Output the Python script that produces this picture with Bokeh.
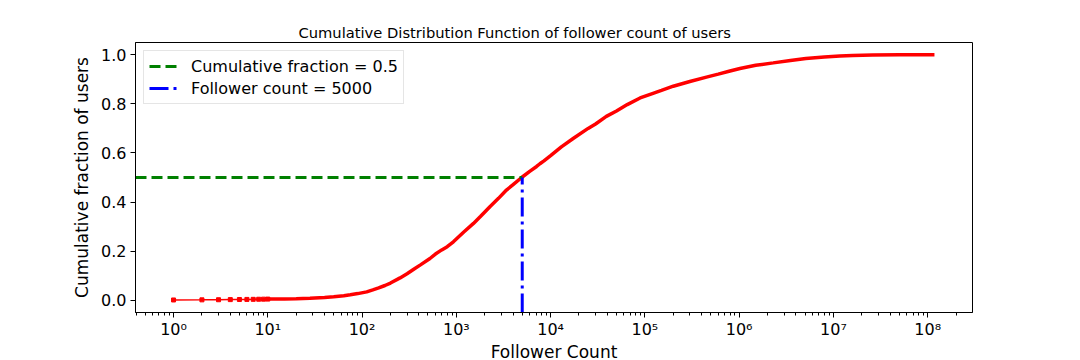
import math
from bokeh.plotting import figure
from bokeh.models import (Range1d, FixedTicker, PrintfTickFormatter, Legend,
                          LegendItem, Title)
from bokeh.embed import file_html
from bokeh.resources import INLINE

# ---- data ----
followers = [1, 2, 3, 4, 5, 6, 7, 8, 9, 10, 12, 15, 20, 28, 40, 50, 64, 75,
             90, 112, 130, 150, 175, 200, 253, 300, 350, 420, 525, 600, 700,
             800, 930, 1200, 1520, 1800, 2270, 2800, 3400, 4000, 4930, 6000,
             7100, 7700, 8500, 10000, 13000, 17500, 25000, 30000, 39000,
             50000, 65000, 89000, 120000, 150000, 200000, 300000, 450000,
             600000, 800000, 1020000, 1500000, 2300000, 3500000, 5100000,
             8000000, 11700000, 16000000, 26000000, 50000000, 118000000]
cum_fraction = [0.001, 0.0015, 0.002, 0.0025, 0.003, 0.0033, 0.0036, 0.004,
                0.0043, 0.0046, 0.005, 0.0055, 0.0065, 0.008, 0.011, 0.014,
                0.018, 0.022, 0.027, 0.034, 0.042, 0.05, 0.06, 0.07, 0.091,
                0.108, 0.125, 0.145, 0.17, 0.188, 0.205, 0.218, 0.238, 0.278,
                0.313, 0.341, 0.381, 0.415, 0.449, 0.471, 0.5, 0.525, 0.545,
                0.556, 0.568, 0.589, 0.625, 0.66, 0.70, 0.718, 0.749, 0.771,
                0.797, 0.824, 0.842, 0.855, 0.872, 0.891, 0.909, 0.921, 0.934,
                0.944, 0.957, 0.967, 0.977, 0.985, 0.991, 0.995, 0.997, 0.999,
                1.0, 1.0]
threshold_fraction = 0.5
threshold_count = 5000

x_ticks = [1, 10, 100, 1000, 10000, 100000, 1000000, 10000000, 100000000]
x_tick_labels = ["10⁰", "10¹", "10²", "10³", "10⁴", "10⁵", "10⁶", "10⁷", "10⁸"]
y_ticks = [0.0, 0.2, 0.4, 0.6, 0.8, 1.0]

title_text = "Cumulative Distribution Function of follower count of users"
x_label = "Follower Count"
y_label = "Cumulative fraction of users"
legend_labels = ["Cumulative fraction = 0.5", "Follower count = 5000"]

# ---- ranges (matplotlib-like 5% margins) ----
lo_exp, hi_exp = math.log10(followers[0]), math.log10(followers[-1])
pad = 0.05 * (hi_exp - lo_exp)
x_lo, x_hi = 10 ** (lo_exp - pad), 10 ** (hi_exp + pad)
y_lo, y_hi = -0.05, 1.05

FONT = "DejaVu Sans"

p = figure(x_axis_type="log", output_backend="svg", toolbar_location=None,
           frame_width=837, frame_height=270,
           x_range=Range1d(x_lo, x_hi), y_range=Range1d(y_lo, y_hi),
           min_border_left=135, min_border_right=100, min_border_top=42,
           min_border_bottom=40)
p.title = Title(text=title_text, align="left", offset=163, standoff=3,
                text_font=FONT, text_font_size="14.7px", text_font_style="normal",
                text_color="black")
p.background_fill_color = "white"
p.border_fill_color = "white"
p.outline_line_color = "black"
p.outline_line_width = 1
p.xgrid.visible = False
p.ygrid.visible = False

minor = []
for d in range(-1, 9):
    for m in range(2, 10):
        v = m * 10 ** d
        if x_lo <= v <= x_hi:
            minor.append(v)

p.xaxis.ticker = FixedTicker(ticks=x_ticks, minor_ticks=minor)
p.xaxis.major_label_overrides = {t: l for t, l in zip(x_ticks, x_tick_labels)}
p.yaxis.ticker = FixedTicker(ticks=y_ticks, minor_ticks=[])
p.yaxis.formatter = PrintfTickFormatter(format="%.1f")

for ax in (p.xaxis, p.yaxis):
    ax.axis_line_color = "black"
    ax.major_tick_line_color = "black"
    ax.minor_tick_line_color = "black"
    ax.major_tick_in = 0
    ax.major_tick_out = 5
    ax.minor_tick_in = 0
    ax.minor_tick_out = 3
    ax.major_label_text_font = FONT
    ax.major_label_text_font_size = "16px"
    ax.major_label_text_color = "black"
    ax.axis_label_text_font = FONT
    ax.axis_label_text_font_size = "17px"
    ax.axis_label_text_font_style = "normal"
    ax.axis_label_text_color = "black"
    ax.major_label_standoff = 2
    ax.axis_label_standoff = 0
p.xaxis.axis_label = x_label
p.yaxis.axis_label = y_label
p.yaxis.major_label_standoff = 4
p.yaxis.axis_label_standoff = 6

# CDF: sparse low-count part shows individual markers, dense part a thick line
k = sum(1 for f in followers if f <= 10)
p.line(followers[:k], cum_fraction[:k], line_color="red", line_width=1.5)
p.scatter(followers[:k], cum_fraction[:k], size=4, color="red", marker="square")
p.line(followers[k - 1:], cum_fraction[k - 1:], line_color="red", line_width=3.5)

# threshold lines
g = p.line([x_lo, threshold_count], [threshold_fraction, threshold_fraction],
           line_color="green", line_width=3, line_dash="11 5")
b = p.line([threshold_count, threshold_count], [y_lo, threshold_fraction],
           line_color="blue", line_width=3, line_dash="19 5 3 5")

legend = Legend(items=[LegendItem(label=legend_labels[0], renderers=[g]),
                       LegendItem(label=legend_labels[1], renderers=[b])],
                location="top_left", margin=8, padding=5, spacing=2,
                glyph_width=29, glyph_height=20, label_standoff=13,
                label_text_font=FONT, label_text_font_size="16px",
                label_text_color="black",
                border_line_color="#cccccc", border_line_width=1,
                background_fill_color="white", background_fill_alpha=0.8)
p.add_layout(legend)

open("out.html", "w").write(file_html(p, INLINE))
